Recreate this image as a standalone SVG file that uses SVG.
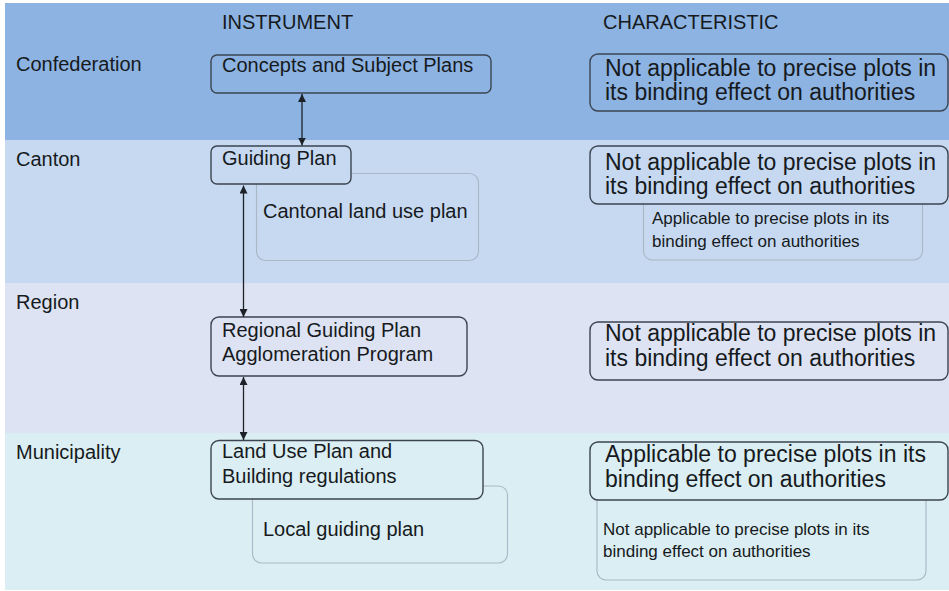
<svg xmlns="http://www.w3.org/2000/svg" width="949" height="591" viewBox="0 0 949 591">
  <style>
    text { font-family: "Liberation Sans", Arial, sans-serif; fill: #161a20; }
    .hdr { font-size: 20px; }
    .lvl { font-size: 20px; }
    .ins { font-size: 20px; }
    .chr { font-size: 23px; }
    .sml { font-size: 17px; }
    .box { stroke: #3b4450; stroke-width: 1.4; }
    .sub { fill: none; stroke: #a9b7c6; stroke-width: 1.1; }
    .b1 { fill: #8db3e2; }
    .b2 { fill: #c6d9f1; }
    .b3 { fill: #dde3f3; }
    .b4 { fill: #dbeef3; }
    .conn { stroke: #1e2228; stroke-width: 1.3; fill: none; }
  </style>
  <defs>
    <marker id="tip" viewBox="0 0 10 10" refX="10" refY="5" markerWidth="8" markerHeight="8" markerUnits="userSpaceOnUse" orient="auto-start-reverse">
      <path d="M0,0 L10,5 L0,10 z" fill="#1e2228"/>
    </marker>
  </defs>

  <rect width="949" height="591" fill="#ffffff"/>

  <!-- level bands -->
  <g id="bands">
    <rect class="b1" x="5" y="3" width="944" height="137"/>
    <rect class="b2" x="5" y="140" width="944" height="143"/>
    <rect class="b3" x="5" y="283" width="944" height="150"/>
    <rect class="b4" x="5" y="433" width="944" height="157"/>
  </g>

  <!-- column headings and level names -->
  <g id="headings">
    <text class="hdr" x="222" y="29">INSTRUMENT</text>
    <text class="hdr" x="603" y="29">CHARACTERISTIC</text>
  </g>
  <g id="levels">
    <text class="lvl" x="16" y="71">Confederation</text>
    <text class="lvl" x="16" y="166">Canton</text>
    <text class="lvl" x="16" y="309">Region</text>
    <text class="lvl" x="16" y="459">Municipality</text>
  </g>

  <!-- secondary instruments (drawn first, partly covered) -->
  <g id="cantonal-land-use-plan">
    <rect class="sub" x="256.5" y="173.5" width="222" height="87" rx="9"/>
    <text class="ins" x="263" y="218">Cantonal land use plan</text>
  </g>
  <g id="local-guiding-plan">
    <rect class="sub" x="252.5" y="486" width="255" height="77" rx="9"/>
    <text class="ins" x="263" y="536">Local guiding plan</text>
  </g>
  <g id="canton-secondary-characteristic">
    <rect class="sub" x="643.5" y="180" width="279" height="80" rx="9"/>
    <text class="sml" x="652" y="224">Applicable to precise plots in its</text>
    <text class="sml" x="652" y="247">binding effect on authorities</text>
  </g>
  <g id="municipality-secondary-characteristic">
    <rect class="sub" x="597" y="480" width="329" height="100" rx="9"/>
    <text class="sml" x="603" y="535">Not applicable to precise plots in its</text>
    <text class="sml" x="603" y="557">binding effect on authorities</text>
  </g>

  <!-- main instruments -->
  <g id="concepts-subject-plans">
    <rect class="box b1" x="211" y="55" width="280" height="38" rx="6"/>
    <text class="ins" x="222" y="72">Concepts and Subject Plans</text>
  </g>
  <g id="guiding-plan">
    <rect class="box b2" x="211" y="146" width="140" height="38" rx="6"/>
    <text class="ins" x="222" y="165">Guiding Plan</text>
  </g>
  <g id="regional-guiding-plan">
    <rect class="box b3" x="211" y="317" width="256" height="59" rx="8"/>
    <text class="ins" x="222" y="337">Regional Guiding Plan</text>
    <text class="ins" x="222" y="361">Agglomeration Program</text>
  </g>
  <g id="land-use-plan">
    <rect class="box b4" x="211" y="440.5" width="272" height="58.5" rx="8"/>
    <text class="ins" x="222" y="458">Land Use Plan and</text>
    <text class="ins" x="222" y="483">Building regulations</text>
  </g>

  <!-- characteristics -->
  <g id="confederation-characteristic">
    <rect class="box b1" x="590" y="54" width="358" height="57" rx="8"/>
    <text class="chr" x="605" y="76">Not applicable to precise plots in</text>
    <text class="chr" x="605" y="100">its binding effect on authorities</text>
  </g>
  <g id="canton-characteristic">
    <rect class="box b2" x="590" y="146" width="358" height="58" rx="8"/>
    <text class="chr" x="605" y="170">Not applicable to precise plots in</text>
    <text class="chr" x="605" y="194">its binding effect on authorities</text>
  </g>
  <g id="region-characteristic">
    <rect class="box b3" x="590" y="322" width="358" height="58" rx="8"/>
    <text class="chr" x="605" y="341">Not applicable to precise plots in</text>
    <text class="chr" x="605" y="366">its binding effect on authorities</text>
  </g>
  <g id="municipality-characteristic">
    <rect class="box b4" x="590" y="442" width="358" height="58" rx="8"/>
    <text class="chr" x="605" y="462">Applicable to precise plots in its</text>
    <text class="chr" x="605" y="487">binding effect on authorities</text>
  </g>

  <!-- two-way links between levels -->
  <g id="connectors">
    <line class="conn" x1="302" y1="94" x2="302" y2="145.5" marker-start="url(#tip)" marker-end="url(#tip)"/>
    <line class="conn" x1="243.5" y1="185.5" x2="243.5" y2="317" marker-start="url(#tip)" marker-end="url(#tip)"/>
    <line class="conn" x1="243.5" y1="377" x2="243.5" y2="440" marker-start="url(#tip)" marker-end="url(#tip)"/>
  </g>
</svg>
